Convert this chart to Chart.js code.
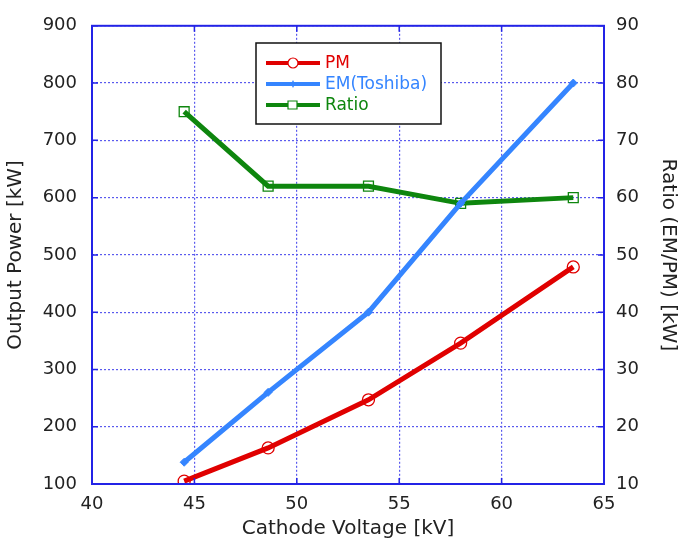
<!DOCTYPE html>
<html>
<head>
<meta charset="utf-8">
<script src="https://cdn.jsdelivr.net/npm/chart.js@4/dist/chart.umd.min.js"></script>
<style>
  html, body { margin: 0; padding: 0; background: #fff; }
  #wrap { width: 681px; height: 541px; }
</style>
</head>
<body>
<div id="wrap"><canvas id="chart" width="681" height="541"></canvas></div>
<script>
// cathode voltage [kV] -> x axis
const voltage = [44.5, 48.6, 53.5, 58.0, 63.5];
// output power [kW]
const pmPower = [105, 163, 247, 346, 479];
const emPower = [138, 260, 400, 590, 800];
// ratio EM/PM -> right axis
const ratio = [75, 62, 62, 59, 60];

const seriesNames = ['PM', 'EM(Toshiba)', 'Ratio'];

const FONT = 'DejaVu Sans';
const AXIS_BLUE = '#2323e6';
const GRID_BLUE = '#5a5aee';

function pts(xs, ys){
  return xs.map((x, i) => ({x: x, y: ys[i]}));
}

// boxed legend inside the plot, like the original
const boxLegend = {
  id: 'boxLegend',
  afterDraw(chart){
    const ctx = chart.ctx;
    const x0 = 256, y0 = 43, w = 185, h = 81;
    ctx.save();
    ctx.fillStyle = '#fff';
    ctx.fillRect(x0, y0, w, h);
    ctx.strokeStyle = '#111';
    ctx.lineWidth = 1.5;
    ctx.strokeRect(x0, y0, w, h);
    ctx.font = '17px "' + FONT + '"';
    ctx.textBaseline = 'middle';
    chart.data.datasets.forEach((ds, i) => {
      const y = y0 + 20 + i * 21;
      ctx.strokeStyle = ds.borderColor;
      ctx.lineWidth = 4;
      ctx.beginPath();
      ctx.moveTo(x0 + 10, y);
      ctx.lineTo(x0 + 64, y);
      ctx.stroke();
      ctx.lineWidth = 1.2;
      ctx.fillStyle = '#fff';
      ctx.beginPath();
      if (ds.pointStyle === 'circle') {
        ctx.arc(x0 + 37, y, 5, 0, Math.PI * 2);
        ctx.fill(); ctx.stroke();
      } else if (ds.pointStyle === 'rect') {
        ctx.rect(x0 + 32, y - 4, 9, 8);
        ctx.fill(); ctx.stroke();
      } else {
        ctx.moveTo(x0 + 37, y - 4); ctx.lineTo(x0 + 39, y);
        ctx.lineTo(x0 + 37, y + 4); ctx.lineTo(x0 + 35, y);
        ctx.closePath();
        ctx.fillStyle = ds.borderColor; ctx.fill();
      }
      ctx.fillStyle = ds.borderColor;
      ctx.fillText(seriesNames[i], x0 + 69, y + 1);
    });
    ctx.restore();
  }
};

// short inward tick marks on the frame
const innerTicks = {
  id: 'innerTicks',
  afterDatasetsDraw(chart){
    const ctx = chart.ctx, a = chart.chartArea;
    ctx.save();
    ctx.strokeStyle = AXIS_BLUE;
    ctx.lineWidth = 1.5;
    ctx.beginPath();
    chart.scales.x.ticks.forEach(t => {
      const px = chart.scales.x.getPixelForValue(t.value);
      ctx.moveTo(px, a.bottom); ctx.lineTo(px, a.bottom - 6);
      ctx.moveTo(px, a.top); ctx.lineTo(px, a.top + 6);
    });
    chart.scales.y.ticks.forEach(t => {
      const py = chart.scales.y.getPixelForValue(t.value);
      ctx.moveTo(a.left, py); ctx.lineTo(a.left + 6, py);
      ctx.moveTo(a.right, py); ctx.lineTo(a.right - 6, py);
    });
    ctx.stroke();
    ctx.lineWidth = 2;
    ctx.strokeRect(a.left, a.top, a.right - a.left, a.bottom - a.top);
    ctx.restore();
  }
};

const data = {
  datasets: [{
    label: seriesNames[0],
    data: pts(voltage, pmPower),
    borderColor: '#e00000',
    backgroundColor: 'rgba(255,255,255,0)',
    borderWidth: 5,
    pointStyle: 'circle',
    pointRadius: 6,
    pointBorderWidth: 1.3,
    yAxisID: 'y'
  }, {
    label: seriesNames[1],
    data: pts(voltage, emPower),
    borderColor: '#3585ff',
    backgroundColor: '#3585ff',
    borderWidth: 5,
    pointStyle: 'rectRot',
    pointRadius: 4,
    pointBorderWidth: 1,
    yAxisID: 'y'
  }, {
    label: seriesNames[2],
    data: pts(voltage, ratio),
    borderColor: '#0e860e',
    backgroundColor: 'rgba(255,255,255,0)',
    borderWidth: 5,
    pointStyle: 'rect',
    pointRadius: 7,
    pointBorderWidth: 1.3,
    yAxisID: 'y2'
  }]
};

const tickFont = {family: FONT, size: 18};
const titleFont = {family: FONT, size: 20};

const config = {
  type: 'line',
  data: data,
  options: {
    responsive: false,
    animation: false,
    layout: {padding: {top: 25, left: 0, right: 0, bottom: 0}},
    plugins: {legend: {display: false}, tooltip: {enabled: false}},
    scales: {
      x: {
        type: 'linear', min: 40, max: 65,
        ticks: {stepSize: 5, color: '#222', font: tickFont, padding: 10},
        grid: {color: GRID_BLUE, lineWidth: 1.2, tickLength: 0, drawTicks: false},
        border: {display: false, dash: [2, 2]},
        title: {display: true, text: 'Cathode Voltage [kV]', color: '#222', font: titleFont, padding: {top: 1, bottom: 0}},
        afterFit: s => { s.height = 57; }
      },
      y: {
        position: 'left', min: 100, max: 900,
        ticks: {stepSize: 100, color: '#222', font: tickFont, padding: 15},
        grid: {color: GRID_BLUE, lineWidth: 1.2, drawTicks: false},
        border: {display: false, dash: [2, 2]},
        title: {display: true, text: 'Output Power [kW]', color: '#222', font: titleFont, padding: {top: 4, bottom: 0}},
        afterFit: s => { s.width = 92; }
      },
      y2: {
        position: 'right', min: 10, max: 90,
        ticks: {stepSize: 10, color: '#222', font: tickFont, padding: 12},
        grid: {display: false, drawTicks: false},
        border: {display: false},
        title: {display: true, text: 'Ratio (EM/PM) [kW]', color: '#222', font: titleFont, padding: {top: 1, bottom: 0}},
        afterFit: s => { s.width = 77; }
      }
    }
  },
  plugins: [innerTicks, boxLegend]
};

var myChart = new Chart(
  document.getElementById('chart').getContext('2d'),
  config
);
</script>
</body>
</html>
